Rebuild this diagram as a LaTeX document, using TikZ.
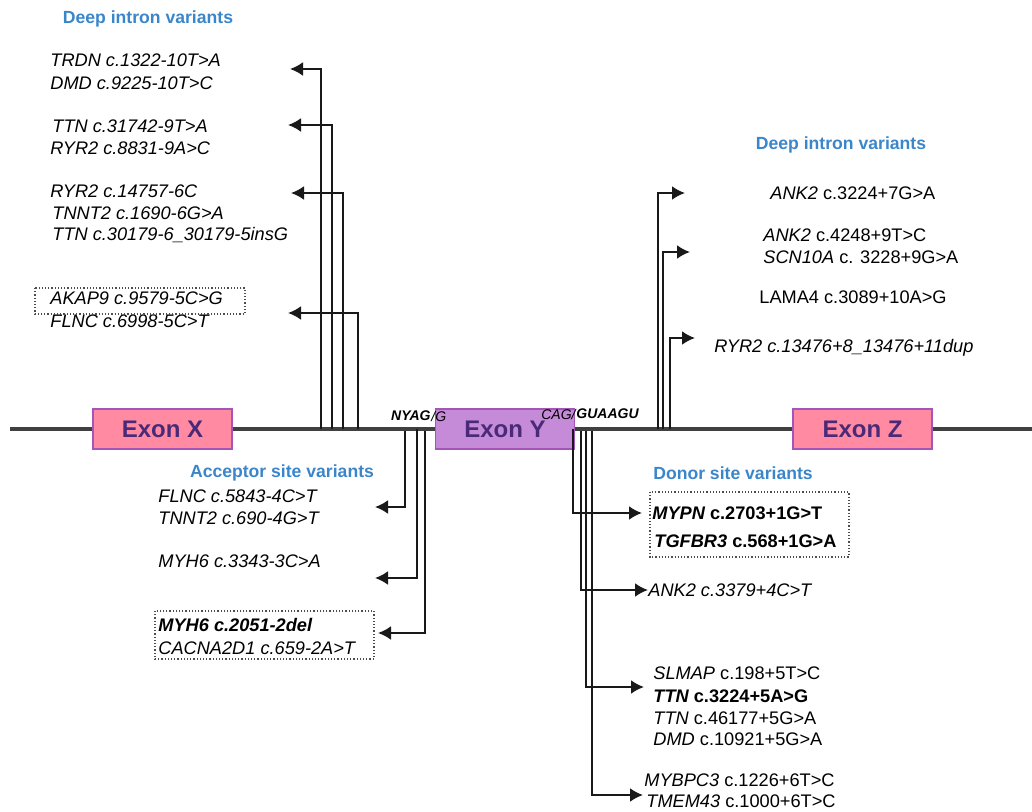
\documentclass[tikz,border=0pt]{standalone}
\usepackage{fontspec}
\setmainfont{Liberation Sans}
\usetikzlibrary{arrows.meta}

\definecolor{exonpink}{HTML}{FF8AA2}
\definecolor{exonlilac}{HTML}{C68BD8}
\definecolor{exonedge}{HTML}{A455B8}
\definecolor{exonink}{HTML}{4A2A78}
\definecolor{headblue}{HTML}{3B86CB}
\definecolor{strand}{HTML}{404040}

\tikzset{
  exon/.style={draw=exonedge,line width=0.6pt,minimum width=69.5pt,minimum height=20pt,
    inner sep=0pt,text=exonink,font=\fontsize{12}{12}\selectfont\bfseries},
  varlabel/.style={anchor=west,inner sep=0pt,font=\fontsize{9.1}{11}\selectfont},
  sitehead/.style={text=headblue,inner sep=0pt,font=\fontsize{8.8}{10}\selectfont\bfseries},
  motif/.style={inner sep=0pt,font=\fontsize{7}{8}\selectfont\itshape},
  stem/.style={line width=1.1pt,draw=black!90,->},
  markbox/.style={densely dotted,line width=0.6pt,draw=black!70}
}

\begin{document}
\begin{tikzpicture}[x=0.5pt,y=-0.5pt,>={Latex[length=6.5pt,width=7pt]}]
        \useasboundingbox (0,0) rectangle (1032,812);

        \coordinate (sl) at (10,429);
        \coordinate (sr) at (1032,429);
        \draw[strand,line width=2pt] (sl) -- (sr);

        \node[exon,fill=exonpink] (ex) at (162.5,429) {Exon X};
        \node[exon,fill=exonlilac] (ey) at (505,429) {Exon Y};
        \node[exon,fill=exonpink] (ez) at (862.5,429) {Exon Z};

        \node[motif,anchor=east] (nyag) at (431,416) {\bfseries NYAG};
        \node[motif,anchor=west] (slg) at (nyag.east) {/G};
        \node[motif,anchor=east] (cag) at (576,414) {CAG/};
        \node[motif,anchor=west] (guaagu) at (576,414) {\bfseries GUAAGU};

        % deep intron, 5' side
        \node[sitehead] (hdl) at (148,19) {Deep intron variants};
        \node[varlabel] (trdn) at (50,60) {\itshape TRDN c.1322-10T>A};
        \node[varlabel] (dmdA) at (50,83) {\itshape DMD c.9225-10T>C};
        \node[varlabel] (ttnA) at (52,126) {\itshape TTN c.31742-9T>A};
        \node[varlabel] (ryrA) at (50,148) {\itshape RYR2 c.8831-9A>C};
        \node[varlabel] (ryrB) at (50,191) {\itshape RYR2 c.14757-6C};
        \node[varlabel] (tnntA) at (52,213) {\itshape TNNT2 c.1690-6G>A};
        \node[varlabel] (ttnB) at (52,235) {\itshape TTN c.30179-6\_30179-5insG};
        \node[varlabel] (akap) at (50,298) {\itshape AKAP9 c.9579-5C>G};
        \node[varlabel] (flncA) at (50,321) {\itshape FLNC c.6998-5C>T};
        \draw[markbox] (35,288) rectangle (245,314);

        \coordinate (dl1) at (321,429);
        \coordinate (dl2) at (332,429);
        \coordinate (dl3) at (343,429);
        \coordinate (dl4) at (358,429);
        \coordinate (dl1t) at (290,69);
        \coordinate (dl2t) at (288,125);
        \coordinate (dl3t) at (291,193);
        \coordinate (dl4t) at (288,313);
        \draw[stem] (dl1) |- (dl1t);
        \draw[stem] (dl2) |- (dl2t);
        \draw[stem] (dl3) |- (dl3t);
        \draw[stem] (dl4) |- (dl4t);

        % deep intron, 3' side
        \node[sitehead] (hdr) at (841,145) {Deep intron variants};
        \node[varlabel] (ankA) at (770,193) {{\itshape ANK2} c.3224+7G>A};
        \node[varlabel] (ankB) at (763,235) {{\itshape ANK2} c.4248+9T>C};
        \node[varlabel] (scn) at (763,257) {{\itshape SCN10A} c. 3228+9G>A};
        \node[varlabel] (lama) at (759,297) {LAMA4 c.3089+10A>G};
        \node[varlabel] (ryrC) at (714,348) {\itshape RYR2 c.13476+8\_13476+11dup};

        \coordinate (dr1) at (658,429);
        \coordinate (dr2) at (663,429);
        \coordinate (dr3) at (670,429);
        \coordinate (dr1t) at (685,193);
        \coordinate (dr2t) at (690,252);
        \coordinate (dr3t) at (695,338);
        \draw[stem] (dr1) |- (dr1t);
        \draw[stem] (dr2) |- (dr2t);
        \draw[stem] (dr3) |- (dr3t);

        % acceptor site
        \node[sitehead] (hda) at (282,473) {Acceptor site variants};
        \node[varlabel] (flncB) at (158,496) {\itshape FLNC c.5843-4C>T};
        \node[varlabel] (tnntB) at (158,518) {\itshape TNNT2 c.690-4G>T};
        \node[varlabel] (myhA) at (158,561) {\itshape MYH6 c.3343-3C>A};
        \node[varlabel] (myhB) at (158,625) {\bfseries\itshape MYH6 c.2051-2del};
        \node[varlabel] (cacna) at (158,648) {\itshape CACNA2D1 c.659-2A>T};
        \draw[markbox] (155,611) rectangle (374,659);

        \coordinate (ac1) at (405,431);
        \coordinate (ac2) at (417,429);
        \coordinate (ac3) at (425,431);
        \coordinate (ac1t) at (375,507);
        \coordinate (ac2t) at (375,578);
        \coordinate (ac3t) at (378,633);
        \draw[stem] (ac1) |- (ac1t);
        \draw[stem] (ac2) |- (ac2t);
        \draw[stem] (ac3) |- (ac3t);

        % donor site
        \node[sitehead] (hdd) at (733,473) {Donor site variants};
        \node[varlabel] (mypn) at (652,513) {\bfseries{\itshape MYPN} c.2703+1G>T};
        \node[varlabel] (tgfbr) at (654,541) {\bfseries{\itshape TGFBR3} c.568+1G>A};
        \draw[markbox] (650,492) rectangle (849,557);
        \node[varlabel] (ankC) at (648,590) {\itshape ANK2 c.3379+4C>T};
        \node[varlabel] (slmap) at (653,673) {{\itshape SLMAP} c.198+5T>C};
        \node[varlabel] (ttnC) at (653,696) {\bfseries{\itshape TTN} c.3224+5A>G};
        \node[varlabel] (ttnD) at (653,718) {{\itshape TTN} c.46177+5G>A};
        \node[varlabel] (dmdB) at (653,739) {{\itshape DMD} c.10921+5G>A};
        \node[varlabel] (mybpc) at (644,780) {{\itshape MYBPC3} c.1226+6T>C};
        \node[varlabel] (tmem) at (646,801) {{\itshape TMEM43} c.1000+6T>C};

        \coordinate (do1) at (573,429);
        \coordinate (do2) at (581,431);
        \coordinate (do3) at (586,431);
        \coordinate (do4) at (592,431);
        \coordinate (do1t) at (642,513);
        \coordinate (do2t) at (648,590);
        \coordinate (do3t) at (644,687);
        \coordinate (do4t) at (643,795);
        \draw[stem] (do1) |- (do1t);
        \draw[stem] (do2) |- (do2t);
        \draw[stem] (do3) |- (do3t);
        \draw[stem] (do4) |- (do4t);
\end{tikzpicture}
\end{document}
